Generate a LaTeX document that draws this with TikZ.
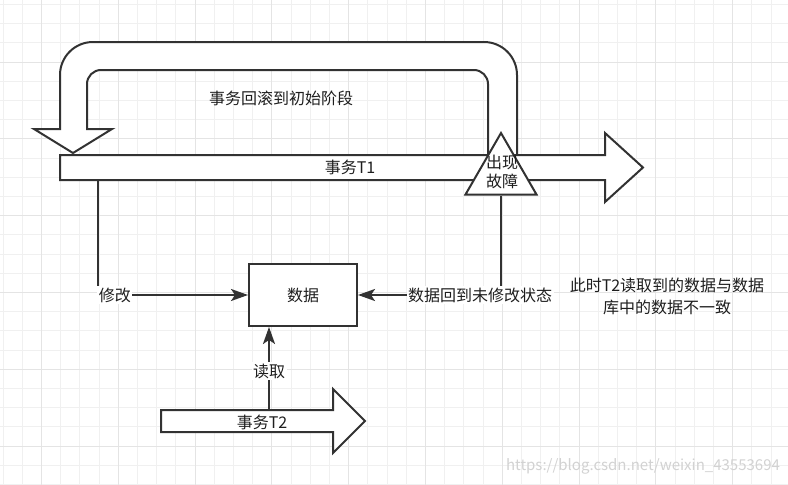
\documentclass[tikz,border=0pt]{standalone}
\usepackage{fontspec}
\newfontfamily\cjk{Noto Sans CJK SC}
\usepackage{xcolor}
\definecolor{gridminor}{RGB}{240, 240, 240}
\definecolor{gridmajor}{RGB}{228, 228, 228}
\definecolor{linegray}{RGB}{50, 50, 50}
\definecolor{textgray}{RGB}{30, 30, 30}
\usepackage{tikz}
\usetikzlibrary{arrows.meta, positioning, shapes.geometric}

\begin{document}
\begin{tikzpicture}[x=1pt, y=-1pt, >={Stealth[length=17pt, width=12pt, inset=4pt]},
    every node/.style={font=\cjk\fontsize{16}{22}\selectfont, text=textgray},
    blockarrow/.style={line width=2pt, draw=linegray, fill=white, line join=miter},
    connector/.style={line width=2pt, draw=linegray, ->},
    edgelabel/.style={fill=white, inner sep=1.5pt}]
    \useasboundingbox (0,0) rectangle (788,485);
    \fill[white] (0,0) rectangle (788,485);
    % grid
    \foreach \gx in {0,...,40} \draw[gridminor, line width=1pt] ({3+19.2*\gx},0) -- ({3+19.2*\gx},485);
    \foreach \gy in {0,...,25} \draw[gridminor, line width=1pt] (0,{4.4+19.2*\gy}) -- (788,{4.4+19.2*\gy});
    \foreach \gx in {0,...,9} \draw[gridmajor, line width=1pt] ({41.4+76.8*\gx},0) -- ({41.4+76.8*\gx},485);
    \foreach \gy in {0,...,5} \draw[gridmajor, line width=1pt] (0,{62+76.8*\gy}) -- (788,{62+76.8*\gy});

    % rollback arrow
    \filldraw[blockarrow] (517,155) -- (517,75) arc[start angle=0, end angle=-90, radius=33]
        -- (93,42) arc[start angle=-90, end angle=-180, radius=33]
        -- (60,129) -- (34,129) -- (73,153) -- (112,129) -- (87,129) -- (87,84)
        arc[start angle=180, end angle=270, radius=14] -- (474,70)
        arc[start angle=270, end angle=360, radius=14] -- (488,155) -- cycle;
    \node (rollback) at (281,98) {事务回滚到初始阶段};

    % transaction T1
    \filldraw[blockarrow] (60,155) -- (605,155) -- (605,133) -- (643,167.5) -- (605,202) -- (605,180) -- (60,180) -- cycle;
    \node (t1) at (350,167) {事务T1};
    \coordinate (t1mod) at (98,180);

    \node[regular polygon, regular polygon sides=3, minimum size=82pt, inner sep=0pt,
        draw=linegray, line width=2pt, fill=white] (fault) at (501,174) {};
    \node[align=center, font=\cjk\fontsize{16}{19}\selectfont] (faulttext) at (502,172) {出现\\故障};

    \node[draw=linegray, line width=2pt, fill=white, minimum width=108pt, minimum height=62pt] (data) at (303,295) {数据};

    \draw[connector] (t1mod) |- node[edgelabel, pos=0.556] (modlabel) {修改} (data.west);
    \draw[connector] (fault.south) |- node[edgelabel, pos=0.573] (restorelabel) {数据回到未修改状态} (data.east);

    % transaction T2
    \filldraw[blockarrow] (161,410) -- (333,410) -- (333,389) -- (365,421) -- (333,453) -- (333,432) -- (161,432) -- cycle;
    \node (t2) at (262,422) {事务T2};
    \coordinate (t2read) at (269,410);
    \draw[connector] (t2read) -- node[edgelabel, pos=0.47] (readlabel) {读取} (t2read |- data.south);

    \node[align=center] (note) at (667,296) {此时T2读取到的数据与数据\\库中的数据不一致};
    \node[text=gray!35, font=\cjk\fontsize{15}{18}\selectfont] (mark) at (643,466) {https://blog.csdn.net/weixin\_43553694};
\end{tikzpicture}
\end{document}
